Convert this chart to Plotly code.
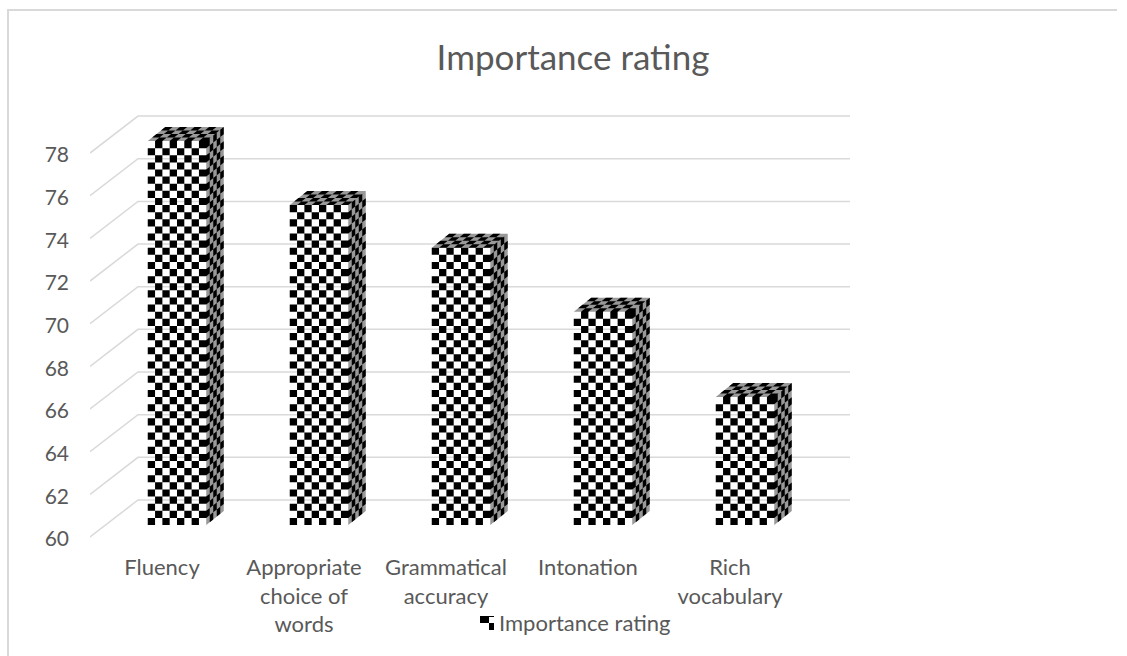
import plotly.graph_objects as go

# Chart content
categories = ["Fluency", "Appropriate<br>choice of<br>words", "Grammatical<br>accuracy", "Intonation", "Rich<br>vocabulary"]
values = [78, 75, 73, 70, 66]
y_ticks = [60, 62, 64, 66, 68, 70, 72, 74, 76, 78]
series_name = "Importance rating"

# Pixel layout of the pseudo-3D plot box
WIDTH, HEIGHT = 1127, 656
PLOT_L, PLOT_R, PLOT_T, PLOT_B = 90, 850, 100, 547
FLOOR_FRONT_PX = 537             # page row where value 60 meets the front of the floor
PX_PER_VALUE = 21.33
PX_PER_CAT = 142
FIRST_CAT_PX = 162
FLOOR_DX, FLOOR_DY = 48, 37      # depth of the floor, front edge to back wall
BAR_DX, BAR_DY = 15, 12          # front face of a bar relative to the axis front
BAR_DEPTH_DX, BAR_DEPTH_DY = 17.5, 14
BAR_W = 58.5
CELL = 7.11
FACE_GROUND = "#999999"
LABEL_DROP = 2                   # tick labels sit slightly below their gridline start

def x_units(px):
    return px / PX_PER_CAT

def y_units(px):
    return px / PX_PER_VALUE

x_range = [(PLOT_L - FIRST_CAT_PX) / PX_PER_CAT, (PLOT_R - FIRST_CAT_PX) / PX_PER_CAT]
y_range = [60 - y_units(PLOT_B - FLOOR_FRONT_PX), 60 + y_units(FLOOR_FRONT_PX - PLOT_T)]

fig = go.Figure()

# Back wall gridlines with their diagonals across the side wall
grid_x, grid_y = [], []
for t in y_ticks:
    grid_x += [x_range[0], x_range[0] + x_units(FLOOR_DX), x_range[1], None]
    grid_y += [t, t + y_units(FLOOR_DY), t + y_units(FLOOR_DY), None]
fig.add_trace(go.Scatter(x=grid_x, y=grid_y, mode="lines", showlegend=False, hoverinfo="skip",
                         line=dict(color="#D9D9D9", width=1.5)))

# White front faces of the bars
fig.add_trace(go.Bar(
    x=list(range(len(values))),
    y=[v - 60 for v in values],
    base=60 + y_units(BAR_DY),
    width=x_units(BAR_W),
    offset=x_units(BAR_DX - BAR_W / 2),
    marker=dict(color="white", line=dict(width=0)),
    showlegend=False,
    hoverinfo="skip",
))

def quad(xs, ys, pts):
    for px, py in pts:
        xs.append(px)
        ys.append(py)
    xs.append(pts[0][0])
    ys.append(pts[0][1])
    xs.append(None)
    ys.append(None)

# Checkerboard on the three visible faces of each bar
ground_x, ground_y, black_x, black_y = [], [], [], []
for i, v in enumerate(values):
    left = i + x_units(BAR_DX - BAR_W / 2)
    bw = x_units(BAR_W)
    base = 60 + y_units(BAR_DY)
    top = v + y_units(BAR_DY)
    ddx, ddy = x_units(BAR_DEPTH_DX), y_units(BAR_DEPTH_DY)
    rows = round((v - 60) / y_units(CELL))
    rh = (top - base) / rows
    cols = 8
    cw = bw / cols

    # grey ground for the side and top faces
    quad(ground_x, ground_y, [(left + bw, base), (left + bw + ddx, base + ddy),
                              (left + bw + ddx, top + ddy), (left + bw, top)])
    quad(ground_x, ground_y, [(left, top), (left + bw, top),
                              (left + bw + ddx, top + ddy), (left + ddx, top + ddy)])

    # front face
    for r in range(rows):
        for c in range(cols):
            if (r + c) % 2 == 0:
                x0, y0 = left + c * cw, base + r * rh
                quad(black_x, black_y, [(x0, y0), (x0 + cw, y0), (x0 + cw, y0 + rh), (x0, y0 + rh)])

    # side face
    side_cols = 5
    sx, sy = ddx / side_cols, ddy / side_cols
    for r in range(rows):
        for c in range(side_cols):
            if (r + c) % 2 == 1:
                x0 = left + bw + c * sx
                y0 = base + r * rh + c * sy
                quad(black_x, black_y, [(x0, y0), (x0 + sx, y0 + sy), (x0 + sx, y0 + sy + rh), (x0, y0 + rh)])

    # top face
    top_rows = 4
    tx, ty = ddx / top_rows, ddy / top_rows
    for r in range(top_rows):
        for c in range(cols):
            if (r + c) % 2 == 1:
                x0 = left + c * cw + r * tx
                y0 = top + r * ty
                quad(black_x, black_y, [(x0, y0), (x0 + cw, y0), (x0 + cw + tx, y0 + ty), (x0 + tx, y0 + ty)])

fig.add_trace(go.Scatter(x=ground_x, y=ground_y, mode="none", fill="toself", fillcolor=FACE_GROUND,
                         showlegend=False, hoverinfo="skip"))
fig.add_trace(go.Scatter(x=black_x, y=black_y, mode="none", fill="toself", fillcolor="black",
                         showlegend=False, hoverinfo="skip"))

# Legend entry; it also carries the labelled value axis. The checker swatch is drawn separately below.
fig.add_trace(go.Scatter(x=[None], y=[None], mode="markers", name=series_name, yaxis="y2",
                         marker=dict(symbol="square", size=12, color="rgba(0,0,0,0)")))

frame_w = PLOT_R - PLOT_L
frame_h = PLOT_B - PLOT_T
def fx(px):
    return (px - PLOT_L) / frame_w
def fy(py):
    return (PLOT_B - py) / frame_h

# Outer chart frame
fig.add_shape(type="path", xref="paper", yref="paper", layer="below",
              path=f"M {fx(8)} {fy(656)} L {fx(8)} {fy(10)} L {fx(1117)} {fy(10)}",
              line=dict(color="#D9D9D9", width=2))

# Legend swatch
for x0, y0, x1, y1 in [(480, 616, 489, 623), (489, 623, 494, 630), (489, 616, 494, 617)]:
    fig.add_shape(type="rect", xref="paper", yref="paper", layer="above",
                  x0=fx(x0), x1=fx(x1), y0=fy(y0), y1=fy(y1),
                  fillcolor="black", line=dict(width=0))

label_shift = y_units(LABEL_DROP)
fig.update_layout(
    width=WIDTH, height=HEIGHT,
    margin=dict(l=PLOT_L, r=WIDTH - PLOT_R, t=PLOT_T, b=HEIGHT - PLOT_B, autoexpand=False),
    paper_bgcolor="white", plot_bgcolor="white",
    font=dict(family="Lato", color="#595959", size=22),
    title=dict(text=series_name, font=dict(size=35, family="Lato", color="#595959"),
               x=573 / WIDTH, xanchor="center", xref="container", y=1 - 58 / HEIGHT, yanchor="middle"),
    bargap=0,
    legend=dict(x=fx(459), y=fy(623), xanchor="left", yanchor="middle", orientation="h",
                bgcolor="rgba(0,0,0,0)", font=dict(size=22, color="#595959"), itemwidth=30),
    xaxis=dict(range=x_range, tickmode="array", tickvals=list(range(len(categories))), ticktext=categories,
               showgrid=False, zeroline=False, showline=False, ticks="", ticklabelstandoff=5, fixedrange=True),
    yaxis=dict(range=y_range, showticklabels=False, showgrid=False, zeroline=False, showline=False,
               ticks="", fixedrange=True),
    yaxis2=dict(range=[y_range[0] + label_shift, y_range[1] + label_shift], overlaying="y", side="left",
                tickmode="array", tickvals=y_ticks, ticktext=[str(t) for t in y_ticks],
                showgrid=False, zeroline=False, showline=False, ticks="", ticklabelstandoff=20,
                fixedrange=True, tickfont=dict(size=21)),
)
fig.write_html("out.html")
